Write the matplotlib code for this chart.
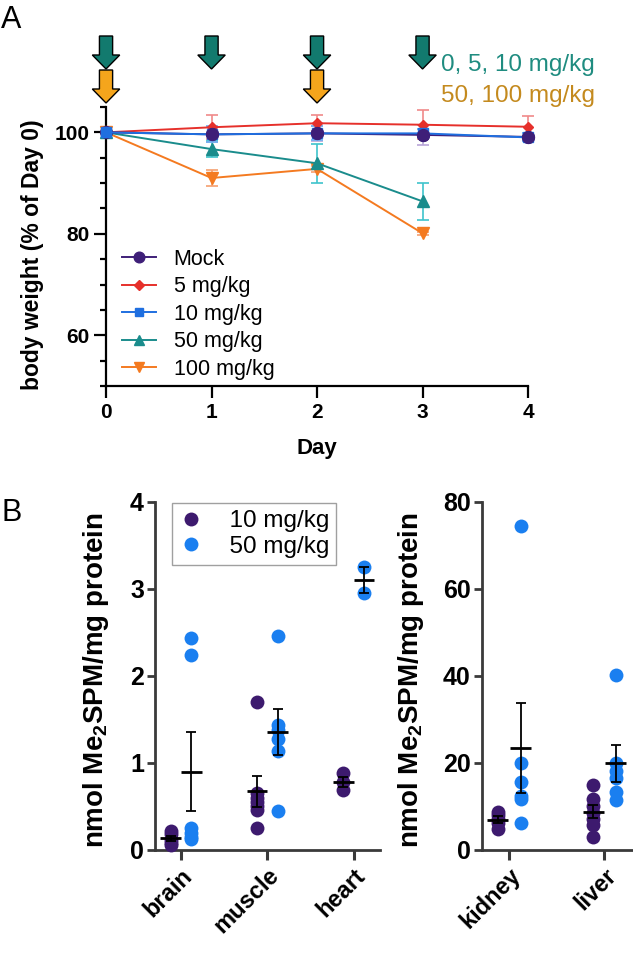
import numpy as np
import matplotlib
matplotlib.use("Agg")
import matplotlib.pyplot as plt
from matplotlib.patches import FancyArrow
from matplotlib.lines import Line2D
import matplotlib.transforms as mtransforms

plt.rcParams['font.family'] = ['Liberation Sans', 'DejaVu Sans']
plt.rcParams['mathtext.fontset'] = 'custom'
plt.rcParams['mathtext.bf'] = 'Liberation Sans:bold'
plt.rcParams['mathtext.rm'] = 'Liberation Sans'

# ---------- panel A data ----------
days = [0, 1, 2, 3, 4]
days_short = [0, 1, 2, 3]

mock = [100, 99.6, 99.8, 99.5, 99.1]
mock_err = [0, 1.5, 1.5, 1.9, 0.8]
dose5 = [100, 101.0, 101.8, 101.5, 101.1]
dose5_err = [0, 2.4, 1.6, 2.9, 2.2]
dose10 = [100, 99.6, 99.8, 99.8, 99.0]
dose10_err = [0, 1.6, 1.4, 0.8, 0.8]
dose50 = [100, 96.7, 93.9, 86.4]
dose50_err = [0, 1.6, 3.9, 3.6]
dose100 = [100, 91.0, 92.8, 80.1]
dose100_err = [0, 1.5, 0.6, 0.3]

green_days = [0, 1, 2, 3]
orange_days = [0, 2]

# ---------- panel B data ----------
tissues_left = ["brain", "muscle", "heart"]
low_left = [
    [0.22, 0.18, 0.12, 0.08, 0.06],
    [1.70, 0.66, 0.60, 0.55, 0.50, 0.46, 0.25],
    [0.88, 0.78, 0.69],
]
high_left = [
    [2.44, 2.24, 0.25, 0.19, 0.15, 0.13],
    [2.46, 1.44, 1.38, 1.28, 1.14, 0.45],
    [3.25, 2.95],
]
tissues_right = ["kidney", "liver"]
low_right = [
    [8.8, 8.0, 7.2, 6.2, 4.8],
    [15.0, 11.8, 10.0, 8.5, 7.2, 5.8, 3.0],
]
high_right = [
    [74.4, 19.9, 15.7, 12.5, 11.8, 6.1],
    [40.2, 20.0, 18.1, 16.6, 13.4, 11.5],
]

c_mock = "#3e1f78"
c_5 = "#e6302b"
c_10 = "#1f6fe0"
c_50 = "#1a8c8c"
c_100 = "#f47a20"

c_low = "#3d1a6e"
c_high = "#1a7ff0"

fig = plt.figure(figsize=(6.33, 9.77), dpi=100)

# ================= panel A =================
ax = fig.add_axes([0.1675, 0.6049, 0.6667, 0.2856])

series = [
    ("100 mg/kg", days_short, dose100, dose100_err, c_100, "#f5a070", "v", 8),
    ("50 mg/kg", days_short, dose50, dose50_err, c_50, "#3ec4cc", "^", 8),
    ("5 mg/kg", days, dose5, dose5_err, c_5, "#f08a8a", "D", 5.5),
    ("Mock", days, mock, mock_err, c_mock, "#b9a5d8", "o", 8.5),
    ("10 mg/kg", days, dose10, dose10_err, c_10, "#6aaef2", "s", 7),
]
handles = {}
for label, x, y, e, col, ecol, mk, ms in series:
    ax.errorbar(x, y, yerr=e, fmt="none", ecolor=ecol, elinewidth=1.2,
                capsize=4, capthick=1.2, clip_on=False, zorder=2)
    ln, = ax.plot(x, y, color=col, lw=1.4, marker=mk, ms=ms, mec=col,
                  mfc=col, clip_on=False, zorder=3)
    handles[label] = ln
# mock markers on top for days 1-4
ax.plot(days[1:], mock[1:], ls="none", marker="o", ms=8.5, color=c_mock,
        clip_on=False, zorder=4)

ax.set_xlim(0, 4)
ax.set_ylim(50, 105)
ax.set_xticks([0, 1, 2, 3, 4])
ax.set_yticks([60, 80, 100])
ax.set_yticks(np.arange(50, 106, 5), minor=True)
ax.tick_params(axis="both", which="major", width=1.6, length=8.5, labelsize=15)
ax.tick_params(axis="y", which="minor", width=1.6, length=4.5)
for lab in ax.get_xticklabels() + ax.get_yticklabels():
    lab.set_fontweight("bold")
for s in ["top", "right"]:
    ax.spines[s].set_visible(False)
for s in ["left", "bottom"]:
    ax.spines[s].set_linewidth(1.6)
ax.set_xlabel("Day", fontsize=16, fontweight="bold", labelpad=12)
ax.set_ylabel("body weight (% of Day 0)", fontsize=16.5, fontweight="bold")
ax.yaxis.set_label_coords(44 / 633, 1 - 255 / 977, transform=fig.transFigure)

order = ["Mock", "5 mg/kg", "10 mg/kg", "50 mg/kg", "100 mg/kg"]
leg_handles = []
for lab in order:
    h = handles[lab]
    leg_handles.append(Line2D([], [], color=h.get_color(), lw=1.4,
                              marker=h.get_marker(), ms=h.get_markersize() * 0.9,
                              mfc=h.get_color(), mec=h.get_color()))
ax.legend(leg_handles, order, loc="upper left",
          bbox_to_anchor=(122 / 633, 1 - 249 / 977), bbox_transform=fig.transFigure,
          frameon=False, fontsize=15.5, handlelength=1.6, handletextpad=0.8,
          labelspacing=0.3, borderpad=0, borderaxespad=0)

# dosing arrows
trans = mtransforms.blended_transform_factory(ax.transData, fig.transFigure)
for d in green_days:
    fig.patches.append(FancyArrow(d, 1 - 36 / 977, 0, -33 / 977, width=0.125,
                                  head_width=0.26, head_length=14 / 977,
                                  length_includes_head=True, fc="#127a6e",
                                  ec="black", lw=1.0, transform=trans))
for d in orange_days:
    fig.patches.append(FancyArrow(d, 1 - 70 / 977, 0, -33 / 977, width=0.125,
                                  head_width=0.26, head_length=14 / 977,
                                  length_includes_head=True, fc="#f5a51c",
                                  ec="black", lw=1.0, transform=trans))
fig.text(441 / 633, 1 - 71 / 977, "0, 5, 10 mg/kg", fontsize=17.5,
         color="#1f8c80", va="baseline", ha="left")
fig.text(441 / 633, 1 - 102 / 977, "50, 100 mg/kg", fontsize=17.5,
         color="#c48a1e", va="baseline", ha="left")

fig.text(1 / 633, 1 - 28 / 977, "A", fontsize=22, va="baseline", ha="left")
fig.text(1 / 633, 1 - 521 / 977, "B", fontsize=22, va="baseline", ha="left")


# ================= panel B =================
def dot_panel(axb, names, low, high, half, ymax, yticks, shift):
    for i in range(len(names)):
        for vals, col, off in [(low[i], c_low, -0.12), (high[i], c_high, 0.12)]:
            xs = np.full(len(vals), i + off)
            axb.plot(xs, vals, "o", color=col, ms=10, mec="none",
                     clip_on=False, zorder=3)
            m = np.mean(vals)
            sem = np.std(vals, ddof=1) / np.sqrt(len(vals))
            axb.plot([i + off - half, i + off + half], [m, m], color="black",
                     lw=2, zorder=4, solid_capstyle="butt")
            axb.errorbar([i + off], [m], yerr=[sem], fmt="none", ecolor="black",
                         elinewidth=1.3, capsize=3.5, capthick=1.3, zorder=4)
    axb.set_ylim(0, ymax)
    axb.set_yticks(yticks)
    axb.set_xticks(range(len(names)))
    axb.set_xticklabels(names, rotation=45, ha="right", rotation_mode="anchor",
                        fontsize=17, fontweight="bold")
    offset = mtransforms.ScaledTranslation(shift / 100, 0, fig.dpi_scale_trans)
    for lab in axb.get_xticklabels():
        lab.set_transform(lab.get_transform() + offset)
    for lab in axb.get_yticklabels():
        lab.set_fontweight("bold")
    axb.tick_params(axis="y", labelsize=18, width=2, length=6, color="#3a3a3a", pad=2)
    axb.tick_params(axis="x", width=2.2, length=7, color="#3a3a3a", pad=3)
    for s in ["top", "right"]:
        axb.spines[s].set_visible(False)
    for s in ["left", "bottom"]:
        axb.spines[s].set_linewidth(2)
        axb.spines[s].set_color("#3a3a3a")
    axb.set_ylabel(r"nmol Me$_\mathbf{2}$SPM/mg protein", fontsize=20,
                   fontweight="bold")


axl = fig.add_axes([0.2449, 0.13, 0.3547, 0.3565])
dot_panel(axl, tissues_left, low_left, high_left, 0.12, 4, [0, 1, 2, 3, 4], 12)
axl.set_xlim(-0.3, 2.3)
axl.yaxis.set_label_coords(111 / 633, 1 - 680 / 977, transform=fig.transFigure)

leg_b = [Line2D([], [], ls="none", marker="o", ms=10, color=c_low, mec="none"),
         Line2D([], [], ls="none", marker="o", ms=10, color=c_high, mec="none")]
lg = axl.legend(leg_b, ["  10 mg/kg", "  50 mg/kg"], loc="upper left",
                bbox_to_anchor=(172 / 633, 1 - 503 / 977),
                bbox_transform=fig.transFigure, fontsize=17.5, frameon=True,
                fancybox=False, edgecolor="#888888", handletextpad=0.5,
                labelspacing=0.15, borderaxespad=0, borderpad=0.3,
                handlelength=1.0)
lg.get_frame().set_linewidth(1.0)

axr = fig.add_axes([0.761, 0.13, 0.239, 0.3565])
dot_panel(axr, tissues_right, low_right, high_right, 0.11, 80, [0, 20, 40, 60, 80], 3)
axr.set_xlim(-0.29, 1.3)
axr.yaxis.set_label_coords(426 / 633, 1 - 680 / 977, transform=fig.transFigure)

fig.savefig("out.png", dpi=100)
